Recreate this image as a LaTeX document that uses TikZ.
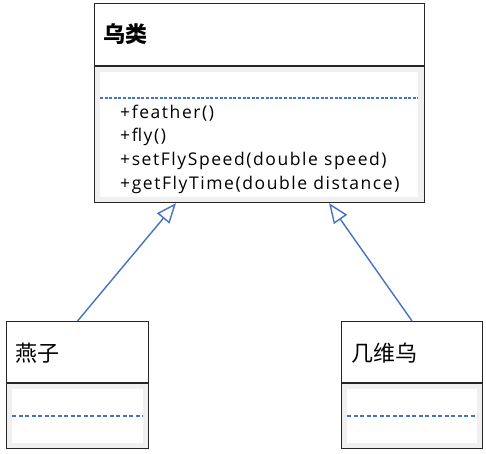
\documentclass[tikz,border=0pt]{standalone}
\usepackage{fontspec}
\setmainfont{Noto Sans CJK SC}
\newfontfamily\latinfont[LetterSpace=9]{Open Sans}
\usetikzlibrary{arrows.meta,calc}
\definecolor{umlblue}{HTML}{4472C4}
\definecolor{bandgrey}{HTML}{F0F0F0}
\tikzset{
  classbox/.style={draw=black!85, line width=1.1pt, anchor=north west, inner sep=0pt},
  inherit/.style={draw=umlblue, line width=1.4pt, -{Triangle[open, length=20pt, width=16pt, fill=white]}},
  sepdash/.style={draw=umlblue, line width=1.3pt, dash pattern=on 3pt off 1.6pt},
  cjk/.style={font=\fontsize{22}{24}\selectfont, anchor=west, inner sep=0pt},
  member/.style={font=\latinfont\fontsize{17.5}{20}\selectfont, anchor=west, inner sep=0pt}
}
\begin{document}
\begin{tikzpicture}[x=1pt,y=-1pt]
\useasboundingbox (0,0) rectangle (486,453);
% ---------- superclass ----------
\fill[bandgrey] (94,66) rectangle (424,202);
\fill[white] (100,72) rectangle (418,197);
\node[classbox, minimum width=330pt, minimum height=199pt] (bird) at (94,3) {};
\draw[black!85, line width=1.1pt] (94,66) -- (424,66);
\draw[sepdash] (100,98) -- (418,98);
\node[cjk, font=\fontsize{22}{24}\selectfont\bfseries] (birdname) at (103,34) {乌类};
\node[member] (m1) at (120,113) {+feather()};
\node[member] (m2) at (120,137) {+fly()};
\node[member] (m3) at (120,161) {+setFlySpeed(double speed)};
\node[member] (m4) at (120,185) {+getFlyTime(double distance)};
% ---------- swallow ----------
\fill[bandgrey] (6,383) rectangle (148,448);
\fill[white] (12,389) rectangle (143,443);
\node[classbox, minimum width=142pt, minimum height=127pt] (swallow) at (6,321) {};
\draw[black!85, line width=1.1pt] (6,383) -- (148,383);
\draw[sepdash, dash pattern=on 4pt off 2.5pt] (12,416) -- (143,416);
\node[cjk] (swallowname) at (15,353) {燕子};
% ---------- kiwi ----------
\fill[bandgrey] (341,383) rectangle (482,448);
\fill[white] (347,389) rectangle (477,443);
\node[classbox, minimum width=141pt, minimum height=127pt] (kiwi) at (341,321) {};
\draw[black!85, line width=1.1pt] (341,383) -- (482,383);
\draw[sepdash, dash pattern=on 4pt off 2.5pt] (347,416) -- (477,416);
\node[cjk] (kiwiname) at (351,353) {几维乌};
% ---------- generalisation ----------
\coordinate (tipL) at ($(bird.south west)+(82,0)$);
\coordinate (tipR) at ($(bird.south west)+(235,0)$);
\draw[inherit] (swallow.north) -- (tipL);
\draw[inherit] (kiwi.north) -- (tipR);
\end{tikzpicture}
\end{document}
